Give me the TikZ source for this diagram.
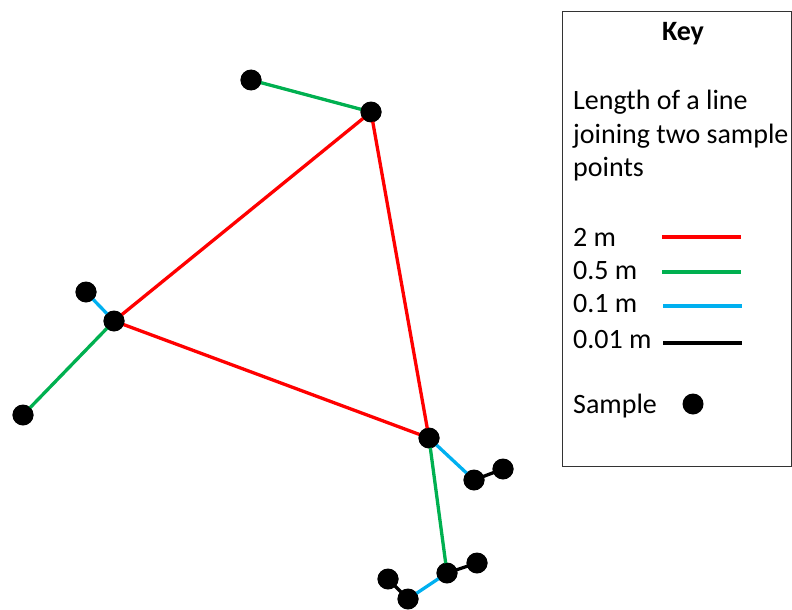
\documentclass[tikz,border=0pt]{standalone}
\usepackage{fontspec}
\setmainfont{Carlito}
\definecolor{kred}{RGB}{255,0,0}
\definecolor{kgreen}{RGB}{0,176,80}
\definecolor{kblue}{RGB}{0,176,240}
\begin{document}
\begin{tikzpicture}[x=1pt,y=-1pt,
  samp/.style={circle,fill=black,inner sep=0pt,minimum width=21pt,minimum height=20pt},
  link/.style={line width=3.3pt},
  keytext/.style={anchor=west,inner sep=0pt,font=\fontsize{28}{32}\selectfont}]
\useasboundingbox (0,0) rectangle (792,610);
% samples
\node[samp] (B) at (251,80) {};
\node[samp] (A) at (371,112) {};
\node[samp] (C) at (114,321) {};
\node[samp] (D) at (86,292) {};
\node[samp] (E) at (23,415) {};
\node[samp] (F) at (429,438) {};
\node[samp] (G) at (474,480) {};
\node[samp] (H) at (503,469) {};
\node[samp] (I) at (447,573) {};
\node[samp] (J) at (477,563) {};
\node[samp] (K) at (408,599) {};
\node[samp] (L) at (388,579) {};
% connectors
\draw[link,kgreen] (B.center) -- (A.center);
\draw[link,kred] (A.center) -- (C.center);
\draw[link,kred] (A.center) -- (F.center);
\draw[link,kred] (C.center) -- (F.center);
\draw[link,kblue] (C.center) -- (D.center);
\draw[link,kgreen] (C.center) -- (E.center);
\draw[link,kblue] (F.center) -- (G.center);
\draw[link,black] (G.center) -- (H.center);
\draw[link,kgreen] (F.center) -- (I.center);
\draw[link,black] (I.center) -- (J.center);
\draw[link,kblue] (I.center) -- (K.center);
\draw[link,black] (K.center) -- (L.center);
% redraw dots on top
\foreach \n in {A,B,C,D,E,F,G,H,I,J,K,L}
  \fill[black] (\n.center) ellipse (10.5pt and 10pt);
% key
\node[draw=black!80,line width=0.8pt,minimum width=229pt,minimum height=455pt,anchor=north west,inner sep=0pt] (keybox) at (562,11) {};
\node[inner sep=0pt,font=\fontsize{28}{32}\selectfont\bfseries] (keyt) at (683,34) {Key};
\node[keytext] (l1) at (573,102) {Length of a line};
\node[keytext] (l2) at (573,136) {joining two sample};
\node[keytext] (l3) at (573,169) {points};
\node[keytext] (k1) at (573,237) {2 m};
\node[keytext] (k2) at (573,271) {0.5 m};
\node[keytext] (k3) at (573,304) {0.1 m};
\node[keytext] (k4) at (573,340) {0.01 m};
\node[keytext] (k5) at (573,406) {Sample};
\coordinate (r1) at (662,237); \coordinate (r2) at (741,237);
\coordinate (g1) at (662,272); \coordinate (g2) at (741,272);
\coordinate (b1) at (663,306); \coordinate (b2) at (742,306);
\coordinate (n1) at (663,343); \coordinate (n2) at (742,343);
\draw[link,kred] (r1) -- (r2);
\draw[link,kgreen] (g1) -- (g2);
\draw[link,kblue] (b1) -- (b2);
\draw[link,black] (n1) -- (n2);
\node[samp] (ks) at (693,404) {};
\end{tikzpicture}
\end{document}
